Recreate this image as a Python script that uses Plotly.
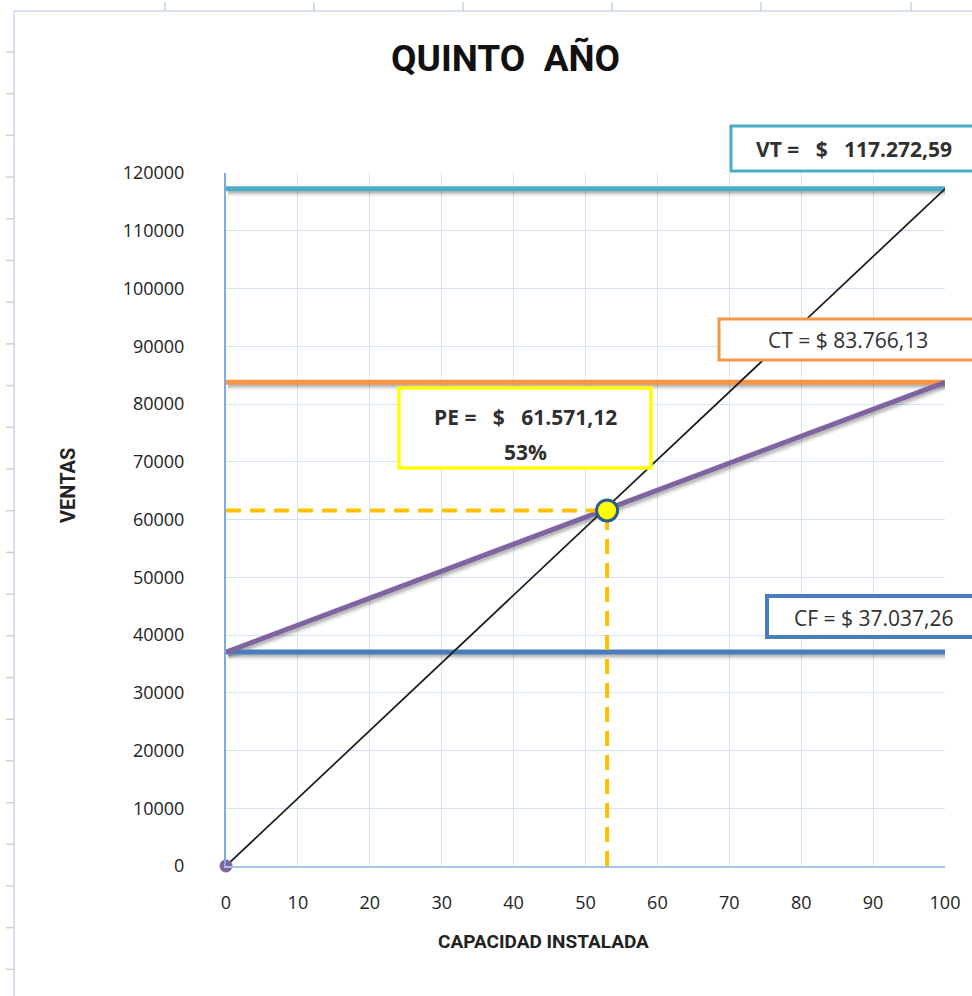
import plotly.graph_objects as go

# Punto de equilibrio - quinto año
capacidad = [0, 100]                 # % de capacidad instalada
ventas_totales = 117272.59           # VT
costos_totales = 83766.13            # CT
costos_fijos = 37037.26              # CF
pe_ventas = 61571.12                 # PE en dólares
pe_pct = 53                          # PE en % de capacidad

ventas_linea = [0, ventas_totales]
costo_linea = [costos_fijos, costos_totales]

x_ticks = list(range(0, 101, 10))
y_ticks = list(range(0, 120001, 10000))
X_RANGE = [0, 100]
Y_RANGE = [0, 120000]

# page geometry (pixels) of the plotting area
W, H = 972, 996
L, R, T, B = 226, 945, 173, 866


def px(x):
    return (x - L) / (R - L)


def py(y):
    return (B - y) / (B - T)


# drop-shadow offset in pixels, turned into axis-range shifts
SH_DX, SH_DY = 2, 3
sx = SH_DX * (X_RANGE[1] - X_RANGE[0]) / (R - L)
sy = SH_DY * (Y_RANGE[1] - Y_RANGE[0]) / (B - T)

TXT = "#222222"
FONT = "Open Sans, Lato, sans-serif"
HEAD = "Roboto, Lato, sans-serif"

fig = go.Figure()

horizontales = [(costos_fijos, "#4A7EBB"), (costos_totales, "#F79646"),
                (ventas_totales, "#4BACC6")]

# soft shadows (drawn on the shifted base axes, underneath everything)
for w, a in [(10, 0.05), (6, 0.10), (3, 0.13)]:
    sh = dict(color=f"rgba(0,0,0,{a})", width=w)
    for val, _ in horizontales:
        fig.add_trace(go.Scatter(x=capacidad, y=[val, val], mode="lines",
                                 line=sh, hoverinfo="skip"))
    fig.add_trace(go.Scatter(x=capacidad, y=costo_linea, mode="lines",
                             line=sh, hoverinfo="skip"))

# horizontal reference lines
for val, col in horizontales:
    fig.add_trace(go.Scatter(x=capacidad, y=[val, val], mode="lines",
                             xaxis="x2", yaxis="y2",
                             line=dict(color=col, width=5), hoverinfo="skip"))

# total cost line
fig.add_trace(go.Scatter(x=capacidad, y=costo_linea, mode="lines",
                         xaxis="x2", yaxis="y2",
                         line=dict(color="#8064A2", width=5), hoverinfo="skip"))

# sales line
fig.add_trace(go.Scatter(x=capacidad, y=ventas_linea, mode="lines",
                         xaxis="x2", yaxis="y2",
                         line=dict(color="#1a1a1a", width=1.7), hoverinfo="skip"))

# break-even guides
for gx, gy in [([0, pe_pct], [pe_ventas, pe_ventas]),
               ([pe_pct, pe_pct], [0, pe_ventas])]:
    fig.add_trace(go.Scatter(x=gx, y=gy, mode="lines", xaxis="x2", yaxis="y2",
                             line=dict(color="#FFC000", width=4, dash="15px,9px"),
                             hoverinfo="skip"))

# origin point
fig.add_trace(go.Scatter(x=[capacidad[0]], y=[ventas_linea[0]], mode="markers",
                         xaxis="x2", yaxis="y2",
                         marker=dict(color="#8064A2", size=13),
                         cliponaxis=False, hoverinfo="skip"))

# break-even point
fig.add_trace(go.Scatter(x=[pe_pct], y=[pe_ventas], mode="markers",
                         xaxis="x2", yaxis="y2",
                         marker=dict(color="#FFFF00", size=21,
                                     line=dict(color="#2E5A8C", width=3)),
                         cliponaxis=False, hoverinfo="skip"))

shapes = []
# worksheet frame around the chart
shapes.append(dict(type="line", xref="paper", yref="paper",
                   x0=px(14), x1=px(14), y0=py(11), y1=py(996),
                   line=dict(color="#C9D8EC", width=1.5), layer="below"))
shapes.append(dict(type="line", xref="paper", yref="paper",
                   x0=px(14), x1=px(972), y0=py(11), y1=py(11),
                   line=dict(color="#C9D8EC", width=1.5), layer="below"))
for xx in [165, 314, 463, 612, 761, 911]:
    shapes.append(dict(type="line", xref="paper", yref="paper",
                       x0=px(xx), x1=px(xx), y0=py(2), y1=py(11),
                       line=dict(color="#CFCFCF", width=1.5), layer="below"))
yy = 52
while yy < 996:
    shapes.append(dict(type="line", xref="paper", yref="paper",
                       x0=px(6), x1=px(14), y0=py(yy), y1=py(yy),
                       line=dict(color="#CFCFCF", width=1.5), layer="below"))
    yy += 41.7

# label boxes
boxes = [
    (731, 990, 126, 171, "#4BACC6", 3),
    (719, 990, 319, 360, "#F79646", 3),
    (399, 651, 388, 468, "#FFFF00", 3.5),
    (767, 990, 596, 637, "#4A7EBB", 4),
]
for x0, x1, y0, y1, col, w in boxes:
    shapes.append(dict(type="rect", xref="paper", yref="paper",
                       x0=px(x0), x1=px(x1), y0=py(y0), y1=py(y1),
                       fillcolor="white", line=dict(color=col, width=w),
                       layer="above"))

annotations = [
    dict(x=px(505), y=py(58), text="<b>QUINTO  AÑO</b>",
         font=dict(family=HEAD, size=37, color="#111111")),
    dict(x=px(543), y=py(941), text="<b>CAPACIDAD INSTALADA</b>",
         font=dict(family=HEAD, size=19, color="#222222")),
    dict(x=px(68), y=py(486), text="<b>VENTAS</b>", textangle=-90,
         font=dict(family=HEAD, size=20, color="#222222")),
    dict(x=px(854), y=py(149), text="<b>VT =   $   117.272,59</b>",
         font=dict(family=FONT, size=21, color="#303030")),
    dict(x=px(848), y=py(340), text="CT = $ 83.766,13",
         font=dict(family=FONT, size=21, color="#303030")),
    dict(x=px(525), y=py(417), text="<b>PE =   $   61.571,12</b>",
         font=dict(family=FONT, size=21, color="#303030")),
    dict(x=px(525), y=py(452), text="<b>53%</b>",
         font=dict(family=FONT, size=21, color="#303030")),
    dict(x=px(873), y=py(618), text="CF = $ 37.037,26",
         font=dict(family=FONT, size=21, color="#303030")),
]
for a in annotations:
    a.update(xref="paper", yref="paper", showarrow=False,
             xanchor="center", yanchor="middle")

hidden = dict(showgrid=False, zeroline=False, showline=False,
              showticklabels=False, ticks="")

fig.update_layout(
    width=W, height=H,
    margin=dict(l=L, r=W - R, t=T, b=H - B, pad=0),
    paper_bgcolor="white", plot_bgcolor="white",
    showlegend=False,
    shapes=shapes, annotations=annotations,
    # base axes carry only the shadows, shifted a few pixels down-right
    xaxis=dict(range=[X_RANGE[0] - sx, X_RANGE[1] - sx], **hidden),
    yaxis=dict(range=[Y_RANGE[0] + sy, Y_RANGE[1] + sy], **hidden),
    xaxis2=dict(range=X_RANGE, overlaying="x", anchor="y2", side="bottom",
                tickvals=x_ticks, showgrid=True,
                gridcolor="#D6E3F4", gridwidth=1, zeroline=False,
                showline=True, linecolor="#A9C4EA", linewidth=1.5,
                ticks="", ticklabelstandoff=20,
                tickfont=dict(family=FONT, size=18, color=TXT)),
    yaxis2=dict(range=Y_RANGE, overlaying="y", anchor="x2", side="left",
                tickvals=y_ticks, tickformat="d",
                showgrid=True, gridcolor="#D6E3F4", gridwidth=1,
                zeroline=False, showline=True, linecolor="#7FA9E0",
                linewidth=2, ticks="", ticklabelstandoff=36,
                tickfont=dict(family=FONT, size=18, color=TXT)),
)

fig.write_html("out.html")
